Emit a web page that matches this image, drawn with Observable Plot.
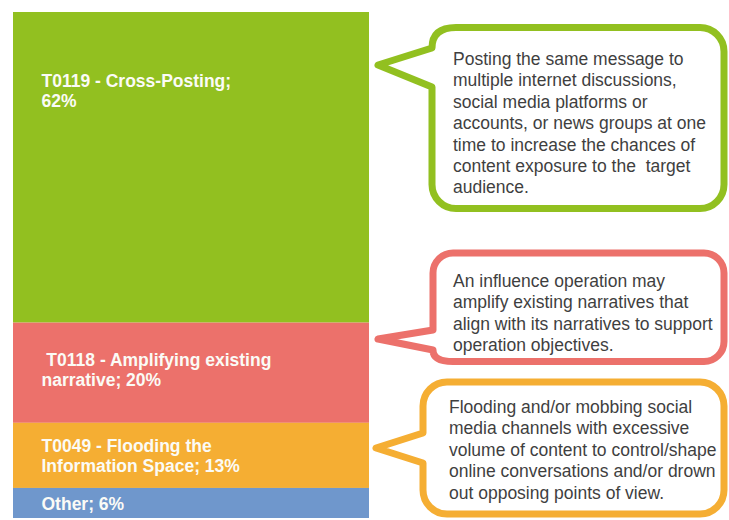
<!DOCTYPE html>
<html>
<head>
<meta charset="utf-8">
<script src="https://cdn.jsdelivr.net/npm/d3@7"></script>
<script src="https://cdn.jsdelivr.net/npm/@observablehq/plot@0.6"></script>
<style>
  html, body { margin: 0; padding: 0; background: #ffffff; }
  #chart svg { display: block; }
</style>
</head>
<body>
<div id="chart"></div>
<script>
// ---- data ----
const categories = [
  "T0119 - Cross-Posting",
  "T0118 - Amplifying existing narrative",
  "T0049 - Flooding the Information Space",
  "Other"
];
const shares = [62, 20, 13, 6];
const barLabels = [
  "T0119 - Cross-Posting;\n62%",
  " T0118 - Amplifying existing\nnarrative; 20%",
  "T0049 - Flooding the\nInformation Space; 13%",
  "Other; 6%"
];
const descriptions = [
  "Posting the same message to\nmultiple internet discussions,\nsocial media platforms or\naccounts, or news groups at one\ntime to increase the chances of\ncontent exposure to the  target\naudience.",
  "An influence operation may\namplify existing narratives that\nalign with its narratives to support\noperation objectives.",
  "Flooding and/or mobbing social\nmedia channels with excessive\nvolume of content to control/shape\nonline conversations and/or drown\nout opposing points of view."
];
const colors = ["#92c020", "#ec716b", "#f5ae33", "#6f97cc"];

// ---- table built from the arrays ----
let acc = 0;
const rows = categories.map((c, i) => {
  const start = acc; acc += shares[i];
  return {category: c, value: shares[i], label: barLabels[i], start, end: acc, i};
});
const total = acc;

// ---- callout layout (pixels) ----
const bubbles = [
  {L: 432, T: 27.5, R: 724, B: 208.5, r: 24, tipX: 378, tipY: 65, pTop: 48, pBot: 87, textX: 453, base: 65, color: colors[0]},
  {L: 433, T: 253, R: 724, B: 361.5, r: 20, tipX: 378, tipY: 339, pTop: 330, pBot: 350, textX: 453, base: 287, color: colors[1]},
  {L: 423, T: 382, R: 724, B: 514, r: 24, tipX: 376, tipY: 448, pTop: 433, pBot: 463, textX: 449, base: 413, color: colors[2]}
];

function bubblePath(b) {
  const {L, T, R, B, r, tipX, tipY, pTop, pBot} = b;
  let p = `M${L + r},${T} H${R - r} A${r},${r} 0 0 1 ${R},${T + r} V${B - r} A${r},${r} 0 0 1 ${R - r},${B} H${L + r}`;
  if (pBot > B - r) p += ` Q${L},${B} ${L},${pBot}`;
  else p += ` A${r},${r} 0 0 1 ${L},${B - r} V${pBot}`;
  p += ` L${tipX},${tipY} L${L},${pTop}`;
  if (pTop < T + r) p += ` Q${L},${T} ${L + r},${T}`;
  else p += ` V${T + r} A${r},${r} 0 0 1 ${L + r},${T}`;
  return p + " Z";
}

function calloutMark(index, scales, values, dimensions, context) {
  const g = d3.create("svg:g");
  bubbles.forEach((b, i) => {
    g.append("path")
      .attr("d", bubblePath(b))
      .attr("fill", "#ffffff")
      .attr("stroke", b.color)
      .attr("stroke-width", 7)
      .attr("stroke-linejoin", "round");
    const t = g.append("text")
      .attr("font-family", "'Liberation Sans', Arial, sans-serif")
      .attr("font-size", 17.5)
      .attr("text-anchor", "start")
      .attr("fill", "#3f3f3f");
    descriptions[i].split("\n").forEach((line, k) => {
      t.append("tspan")
        .attr("x", b.textX)
        .attr("y", b.base + k * 21.4)
        .attr("text-anchor", "start")
        .style("white-space", "pre")
        .text(line);
    });
  });
  return g.node();
}

const chart = Plot.plot({
  width: 729,
  height: 520,
  marginLeft: 13,
  marginRight: 360,
  marginTop: 12,
  marginBottom: 2,
  style: {background: "#ffffff", fontFamily: "'Liberation Sans', Arial, sans-serif", overflow: "visible"},
  x: {type: "band", domain: ["share"], padding: 0, axis: null},
  y: {domain: [0, total], reverse: true, axis: null},
  color: {domain: categories, range: colors},
  marks: [
    Plot.barY(rows, {x: () => "share", y: "value", fill: "category", order: null}),
    Plot.text(rows, {
      y: d => d.i === 0 ? d.start + d.value * 0.25 : d.start + d.value / 2 - (d.i === 1 ? 0.8 : 0),
      text: "label",
      frameAnchor: "left",
      dx: 28,
      textAnchor: "start",
      lineAnchor: "middle",
      lineHeight: 20 / 17.5,
      fill: "#fbfbf6",
      fontWeight: "bold",
      fontSize: 17.5
    }),
    calloutMark
  ]
});
document.getElementById("chart").appendChild(chart);
</script>
</body>
</html>
